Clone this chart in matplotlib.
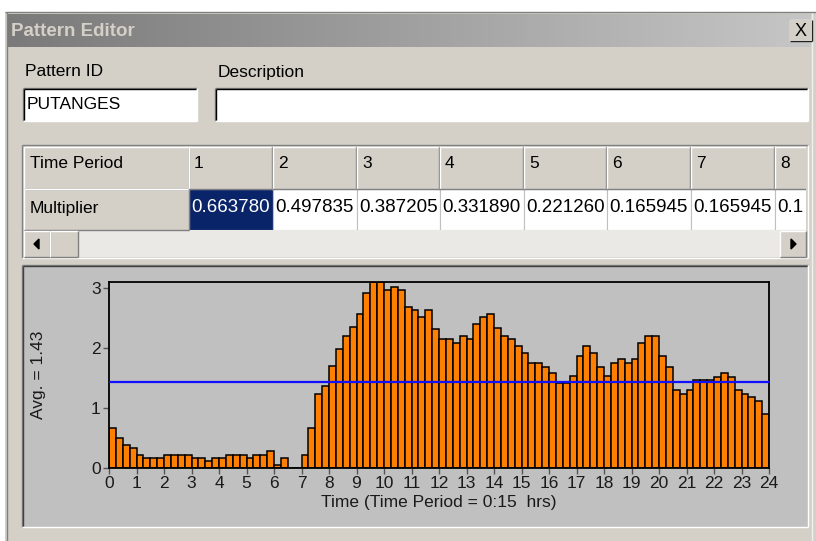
import numpy as np
import matplotlib
matplotlib.use('Agg')
import matplotlib.pyplot as plt
from matplotlib.patches import Rectangle, Polygon
from matplotlib.colors import LinearSegmentedColormap

plt.rcParams['font.family'] = ['Liberation Sans', 'DejaVu Sans']

# ---- data ----
pattern_id = 'PUTANGES'
description = ''
avg_value = 1.43
x_label = 'Time (Time Period = 0:15  hrs)'
hour_ticks = list(range(0, 25))
y_ticks = [0, 1, 2, 3]

# multiplier per 15 minute period (96 periods)
multipliers = [
    0.663780, 0.497835, 0.387205, 0.331890, 0.221260, 0.165945, 0.165945, 0.165945,
    0.221260, 0.221260, 0.221260, 0.221260, 0.165945, 0.165945, 0.110630, 0.165945,
    0.165945, 0.221260, 0.221260, 0.221260, 0.165945, 0.221260, 0.221260, 0.276575,
    0.055315, 0.165945, 0.0, 0.0, 0.221260, 0.663780, 1.24, 1.36,
    1.70, 1.98, 2.20, 2.35, 2.57, 2.91, 3.10, 3.10,
    2.97, 3.02, 2.97, 2.69, 2.63, 2.51, 2.63, 2.32,
    2.15, 2.15, 2.09, 2.20, 2.15, 2.40, 2.51, 2.57,
    2.34, 2.20, 2.15, 2.04, 1.92, 1.75, 1.75, 1.69,
    1.58, 1.41, 1.41, 1.53, 1.87, 2.03, 1.92, 1.69,
    1.53, 1.75, 1.81, 1.75, 1.81, 2.09, 2.20, 2.20,
    1.87, 1.69, 1.30, 1.24, 1.30, 1.47, 1.47, 1.47,
    1.52, 1.58, 1.52, 1.30, 1.24, 1.18, 1.12, 0.90,
]
visible_periods = 8

FACE = '#d4d0c8'
DARK = '#808080'

fig = plt.figure(figsize=(8.16, 5.41), dpi=100, facecolor='white')
bg = fig.add_axes([0, 0, 1, 1])
bg.set_xlim(0, 816)
bg.set_ylim(541, 0)
bg.axis('off')


def line(ax, xs, ys, c, lw=1.0):
    ax.plot(xs, ys, color=c, lw=lw, solid_capstyle='butt')


def bevel(ax, x0, y0, x1, y1, raised=True):
    tl, br = ('white', DARK) if raised else (DARK, 'white')
    line(ax, [x0, x1], [y0, y0], tl)
    line(ax, [x0, x0], [y0, y1], tl)
    line(ax, [x0, x1], [y1, y1], br)
    line(ax, [x1, x1], [y0, y1], br)


# dialog body
bg.add_patch(Rectangle((5, 12), 811, 529, facecolor=FACE, edgecolor='none'))
line(bg, [7, 7], [12, 541], DARK)
line(bg, [812, 812], [12, 541], '#f0f0f0')
line(bg, [5, 816], [12, 12], DARK)

# title bar gradient
cm = LinearSegmentedColormap.from_list('title', ['#7a7a7a', '#c6c6c6'])
bg.imshow(np.linspace(0, 1, 256)[None, :], extent=(8, 811, 47, 14), cmap=cm,
          aspect='auto', zorder=2)
bg.set_xlim(0, 816)
bg.set_ylim(541, 0)
bg.text(11, 31, 'Pattern Editor', fontsize=13.5, fontweight='bold', color=FACE,
        va='center', zorder=3)
bg.add_patch(Rectangle((790, 20), 22, 21, facecolor=FACE, edgecolor='none', zorder=3))
line(bg, [790, 812], [20, 20], 'white')
line(bg, [790, 790], [20, 41], 'white')
line(bg, [790, 812], [41, 41], '#202020')
line(bg, [812, 812], [20, 41], '#202020')
bg.text(801, 31, 'X', fontsize=13, ha='center', va='center', color='black', zorder=4)

# labels + text boxes
bg.text(25, 72, 'Pattern ID', fontsize=12.5, va='center')
bg.text(218, 72, 'Description', fontsize=12.5, va='center')
for x0, x1, txt in [(23, 197, pattern_id), (215, 808, description)]:
    bg.add_patch(Rectangle((x0, 88), x1 - x0, 33, facecolor='white', edgecolor='none'))
    bevel(bg, x0, 88, x1, 121, raised=False)
    line(bg, [x0 + 1, x1 - 1], [89, 89], 'black')
    line(bg, [x0 + 1, x0 + 1], [89, 120], 'black')
    bg.text(x0 + 4, 104.5, txt, fontsize=12.5, va='center')

# grid table
bg.add_patch(Rectangle((22, 145), 786, 113, facecolor=FACE, edgecolor='none'))
bevel(bg, 22, 145, 808, 258, raised=False)
col_edges = [189, 273, 357, 440, 524, 607, 691, 775, 859]
clip = Rectangle((24, 146), 782, 84, transform=bg.transData)

bg.add_patch(Rectangle((24, 147), 165, 42, facecolor=FACE, edgecolor='none'))
bevel(bg, 24, 147, 189, 189)
bg.text(30, 164, 'Time Period', fontsize=12.5, va='center')
bg.add_patch(Rectangle((24, 189), 165, 41, facecolor=FACE, edgecolor='none'))
bevel(bg, 24, 189, 189, 230)
bg.text(30, 208, 'Multiplier', fontsize=12.5, va='center')

for i in range(visible_periods):
    x0, x1 = col_edges[i], col_edges[i + 1]
    hdr = Rectangle((x0, 147), x1 - x0, 42, facecolor=FACE, edgecolor='none')
    bg.add_patch(hdr)
    hdr.set_clip_path(clip)
    for xs, ys, c in [([x0, x1], [147, 147], 'white'), ([x0, x0], [147, 189], 'white'),
                      ([x0, x1], [189, 189], DARK), ([x1 - 1, x1 - 1], [147, 189], DARK)]:
        ln, = bg.plot(xs, ys, color=c, lw=1)
        ln.set_clip_path(clip)
    t = bg.text(x0 + 5, 164, str(i + 1), fontsize=12.5, va='center')
    t.set_clip_path(clip)
    sel = i == 0
    cell = Rectangle((x0, 189), x1 - x0, 41, facecolor='#0a246a' if sel else 'white',
                     edgecolor='#c0c0c0', lw=0.8)
    bg.add_patch(cell)
    cell.set_clip_path(clip)
    label = '%.6f' % multipliers[i]
    if x1 > 806:
        # last column is cut by the grid edge
        label = label[:3]
    bg.text(x0 + 2, 208, label, fontsize=13.5, va='center',
            color='white' if sel else 'black')

# scrollbar
bg.add_patch(Rectangle((24, 230), 782, 27, facecolor='#ebe9e5', edgecolor='none',
                       hatch='....', lw=0))
for x0, x1 in [(24, 50), (50, 78), (780, 806)]:
    bg.add_patch(Rectangle((x0, 231), x1 - x0, 26, facecolor=FACE, edgecolor='none'))
    bevel(bg, x0, 231, x1, 257)
bg.add_patch(Polygon([(34, 244), (39, 239), (39, 249)], closed=True, color='black'))
bg.add_patch(Polygon([(796, 244), (791, 239), (791, 249)], closed=True, color='black'))

# chart panel
bg.add_patch(Rectangle((22, 265), 786, 262, facecolor='#c0c0c0', edgecolor='none'))
bevel(bg, 22, 265, 808, 527, raised=False)
line(bg, [23, 807], [266, 266], '#404040')
line(bg, [23, 23], [266, 526], '#404040')

# bar chart
ax = fig.add_axes([109 / 816, 1 - 468 / 541, 660 / 816, 186 / 541])
ax.set_facecolor('#c0c0c0')
starts = np.arange(len(multipliers)) * 0.25
ax.bar(starts, multipliers, width=0.25, align='edge', color='#ff8000',
       edgecolor='black', linewidth=1.1, zorder=2)
ax.axhline(avg_value, color='#1010ff', lw=1.6, zorder=3)
ax.set_xlim(0, 24)
ax.set_ylim(0, 3.1)
ax.set_xticks(hour_ticks)
ax.set_yticks(y_ticks)
ax.tick_params(direction='out', length=4, width=1, colors='#555555',
               labelcolor='#1a1a1a', labelsize=12.5, pad=2)
for s in ax.spines.values():
    s.set_color('black')
    s.set_linewidth(1.3)
ax.set_xlabel(x_label, fontsize=12.5, color='#1a1a1a', labelpad=3)
ax.set_ylabel('Avg. = %.2f' % avg_value, fontsize=12.5, color='#1a1a1a', labelpad=32)

fig.savefig('out.png', dpi=100, facecolor='white')
